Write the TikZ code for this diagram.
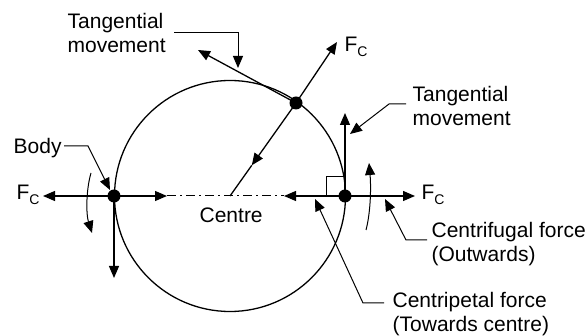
\documentclass[tikz,border=0pt]{standalone}
\usepackage{fontspec}
\setmainfont{Liberation Sans}
\usetikzlibrary{arrows.meta,calc}
\newcommand{\Fc}{F\raisebox{-5pt}{\fontsize{14}{14}\selectfont C}}

\begin{document}
\begin{tikzpicture}[x=1pt, y=-1pt, line width=1.3pt, font=\fontsize{21}{24}\selectfont,
lbl/.style={align=left,inner sep=0pt,anchor=north west},
flbl/.style={inner sep=0pt,anchor=base west},
arr/.style={-{Triangle[length=12pt,width=10pt]}},
body/.style={circle,fill,inner sep=0pt,minimum size=13pt}]
\useasboundingbox (0,0) rectangle (587,336);
% path circle
\coordinate (O) at (230,196);
\draw (O) circle[radius=115.5pt];
% the three positions of the body
\node[body] (L) at (114,196) {};
\node[body] (R) at (345,196) {};
\node[body] (T) at (296,103) {};
% arrow ends
\coordinate (Lout) at (43,196);
\coordinate (Lin) at (167,196);
\coordinate (Rin) at (284,196);
\coordinate (Rout) at (415,196);
\coordinate (Ltan) at (114,278);
\coordinate (Rtan) at (345,113);
\coordinate (Tout) at (337,42);
\coordinate (Ttan) at (198,50);
\coordinate (Tin) at ($(T)!0.67!(O)$);
% forces and movement
\draw[arr] (L.center) -- (Lout);
\draw[arr] (L.center) -- (Lin);
\draw[arr] (L.center) -- (Ltan);
\draw[arr] (R.center) -- (Rin);
\draw[arr] (R.center) -- (Rout);
\draw[arr] (R.center) -- (Rtan);
\draw[arr] (T.center) -- (Tout);
\draw[arr] (T.center) -- (Ttan);
\draw[arr] (T.center) -- (Tin);
\draw (Tin) -- (O);
\draw[line width=1pt,dash pattern=on 9pt off 4pt on 2pt off 4pt] (Lin) -- (Rin);
% right angle at R
\draw[line width=1pt] (326,196) -- (326,177) -- (345,177);
% sense of rotation
\coordinate (la) at (91,173); \coordinate (lb) at (92,233);
\coordinate (ra) at (366,230); \coordinate (rb) at (369,163);
\draw[arr,line width=1pt] (la) .. controls (86,190) and (86,214) .. (lb);
\draw[arr,line width=1pt] (ra) .. controls (371,211) and (371,185) .. (rb);
% labels
\node[flbl] (fl) at (16,200) {\Fc};
\node[flbl] (fr) at (421,200) {\Fc};
\node[flbl] (ft) at (344,52) {\Fc};
\node[lbl] (ctr) at (199,207) {Centre};
\node[lbl] (tan1) at (67,13) {Tangential\\movement};
\node[lbl] (tan2) at (412,86) {Tangential\\movement};
\node[lbl] (bdy) at (13,138) {Body};
\node[lbl] (cfug) at (431,222) {Centrifugal force\\(Outwards)};
\node[lbl] (cpet) at (392,292) {Centripetal force\\(Towards centre)};
% leaders
\coordinate (t1a) at (174,33); \coordinate (t1b) at (238,33); \coordinate (t1c) at (238,68);
\coordinate (t2a) at (406,104); \coordinate (t2b) at (389,104); \coordinate (t2c) at (350,134);
\coordinate (ba) at (64,146); \coordinate (bb) at (88,146); \coordinate (bc) at (110,190);
\coordinate (ca) at (427,240); \coordinate (cb) at (406,240); \coordinate (cc) at (385,199);
\coordinate (pa) at (384,303); \coordinate (pb) at (363,303); \coordinate (pc) at (315,199);
\draw[arr,line width=1pt] (t1a) -- (t1b) -- (t1c);
\draw[arr,line width=1pt] (t2a) -- (t2b) -- (t2c);
\draw[arr,line width=1pt] (ba) -- (bb) -- (bc);
\draw[arr,line width=1pt] (ca) -- (cb) -- (cc);
\draw[arr,line width=1pt] (pa) -- (pb) -- (pc);
\end{tikzpicture}
\end{document}
